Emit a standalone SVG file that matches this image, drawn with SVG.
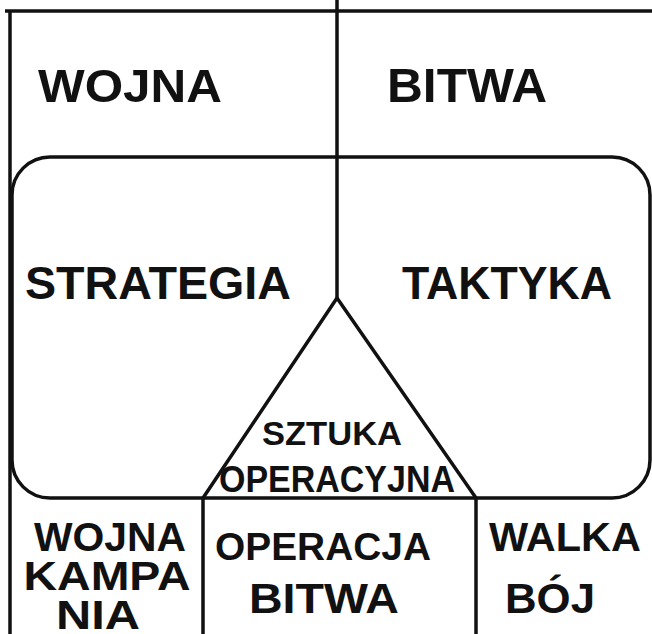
<svg xmlns="http://www.w3.org/2000/svg" width="652" height="634" viewBox="0 0 652 634">
<style>
.ln{fill:none;stroke:#111;stroke-width:3.5;stroke-linejoin:round}
.t{font-family:"Liberation Sans",Arial,sans-serif;font-weight:bold;fill:#111;text-anchor:middle}
</style>
<rect width="652" height="634" fill="#fff"/>
<g id="connectors">
<line class="ln" x1="5" y1="11" x2="652" y2="11"/>
<line class="ln" x1="10" y1="11" x2="10" y2="634"/>
<line class="ln" x1="337" y1="0" x2="337" y2="298"/>
<rect class="ln" x="12" y="157" width="638" height="341" rx="38" ry="38"/>
<line class="ln" x1="203" y1="498" x2="203" y2="634"/>
<line class="ln" x1="476" y1="498" x2="476" y2="634"/>
</g>
<g id="triangle">
<path class="ln" stroke-width="4.5" d="M203 498 L337 298 L476 498"/>
</g>
<g id="wojna-top"><text class="t" x="130" y="102" font-size="47" textLength="184" lengthAdjust="spacingAndGlyphs">WOJNA</text></g>
<g id="bitwa-top"><text class="t" x="467" y="102" font-size="48" textLength="160" lengthAdjust="spacingAndGlyphs">BITWA</text></g>
<g id="strategia"><text class="t" x="158" y="299" font-size="47" textLength="266" lengthAdjust="spacingAndGlyphs">STRATEGIA</text></g>
<g id="taktyka"><text class="t" x="507" y="299" font-size="46" textLength="210" lengthAdjust="spacingAndGlyphs">TAKTYKA</text></g>
<g id="sztuka"><text class="t" x="332" y="445" font-size="34" textLength="140" lengthAdjust="spacingAndGlyphs">SZTUKA</text>
<text class="t" x="337" y="492" font-size="37" textLength="236" lengthAdjust="spacingAndGlyphs">OPERACYJNA</text></g>
<g id="col1"><text class="t" x="110" y="551" font-size="40" textLength="152" lengthAdjust="spacingAndGlyphs">WOJNA</text>
<text class="t" x="107" y="590" font-size="41" textLength="167" lengthAdjust="spacingAndGlyphs">KAMPA</text>
<text class="t" x="98" y="629" font-size="41" textLength="84" lengthAdjust="spacingAndGlyphs">NIA</text></g>
<g id="col2"><text class="t" x="323" y="560" font-size="38" textLength="216" lengthAdjust="spacingAndGlyphs">OPERACJA</text>
<text class="t" x="324" y="613" font-size="42" textLength="150" lengthAdjust="spacingAndGlyphs">BITWA</text></g>
<g id="col3"><text class="t" x="565" y="551" font-size="40" textLength="152" lengthAdjust="spacingAndGlyphs">WALKA</text>
<text class="t" x="550" y="613" font-size="42" textLength="90" lengthAdjust="spacingAndGlyphs">BÓJ</text></g>
</svg>
